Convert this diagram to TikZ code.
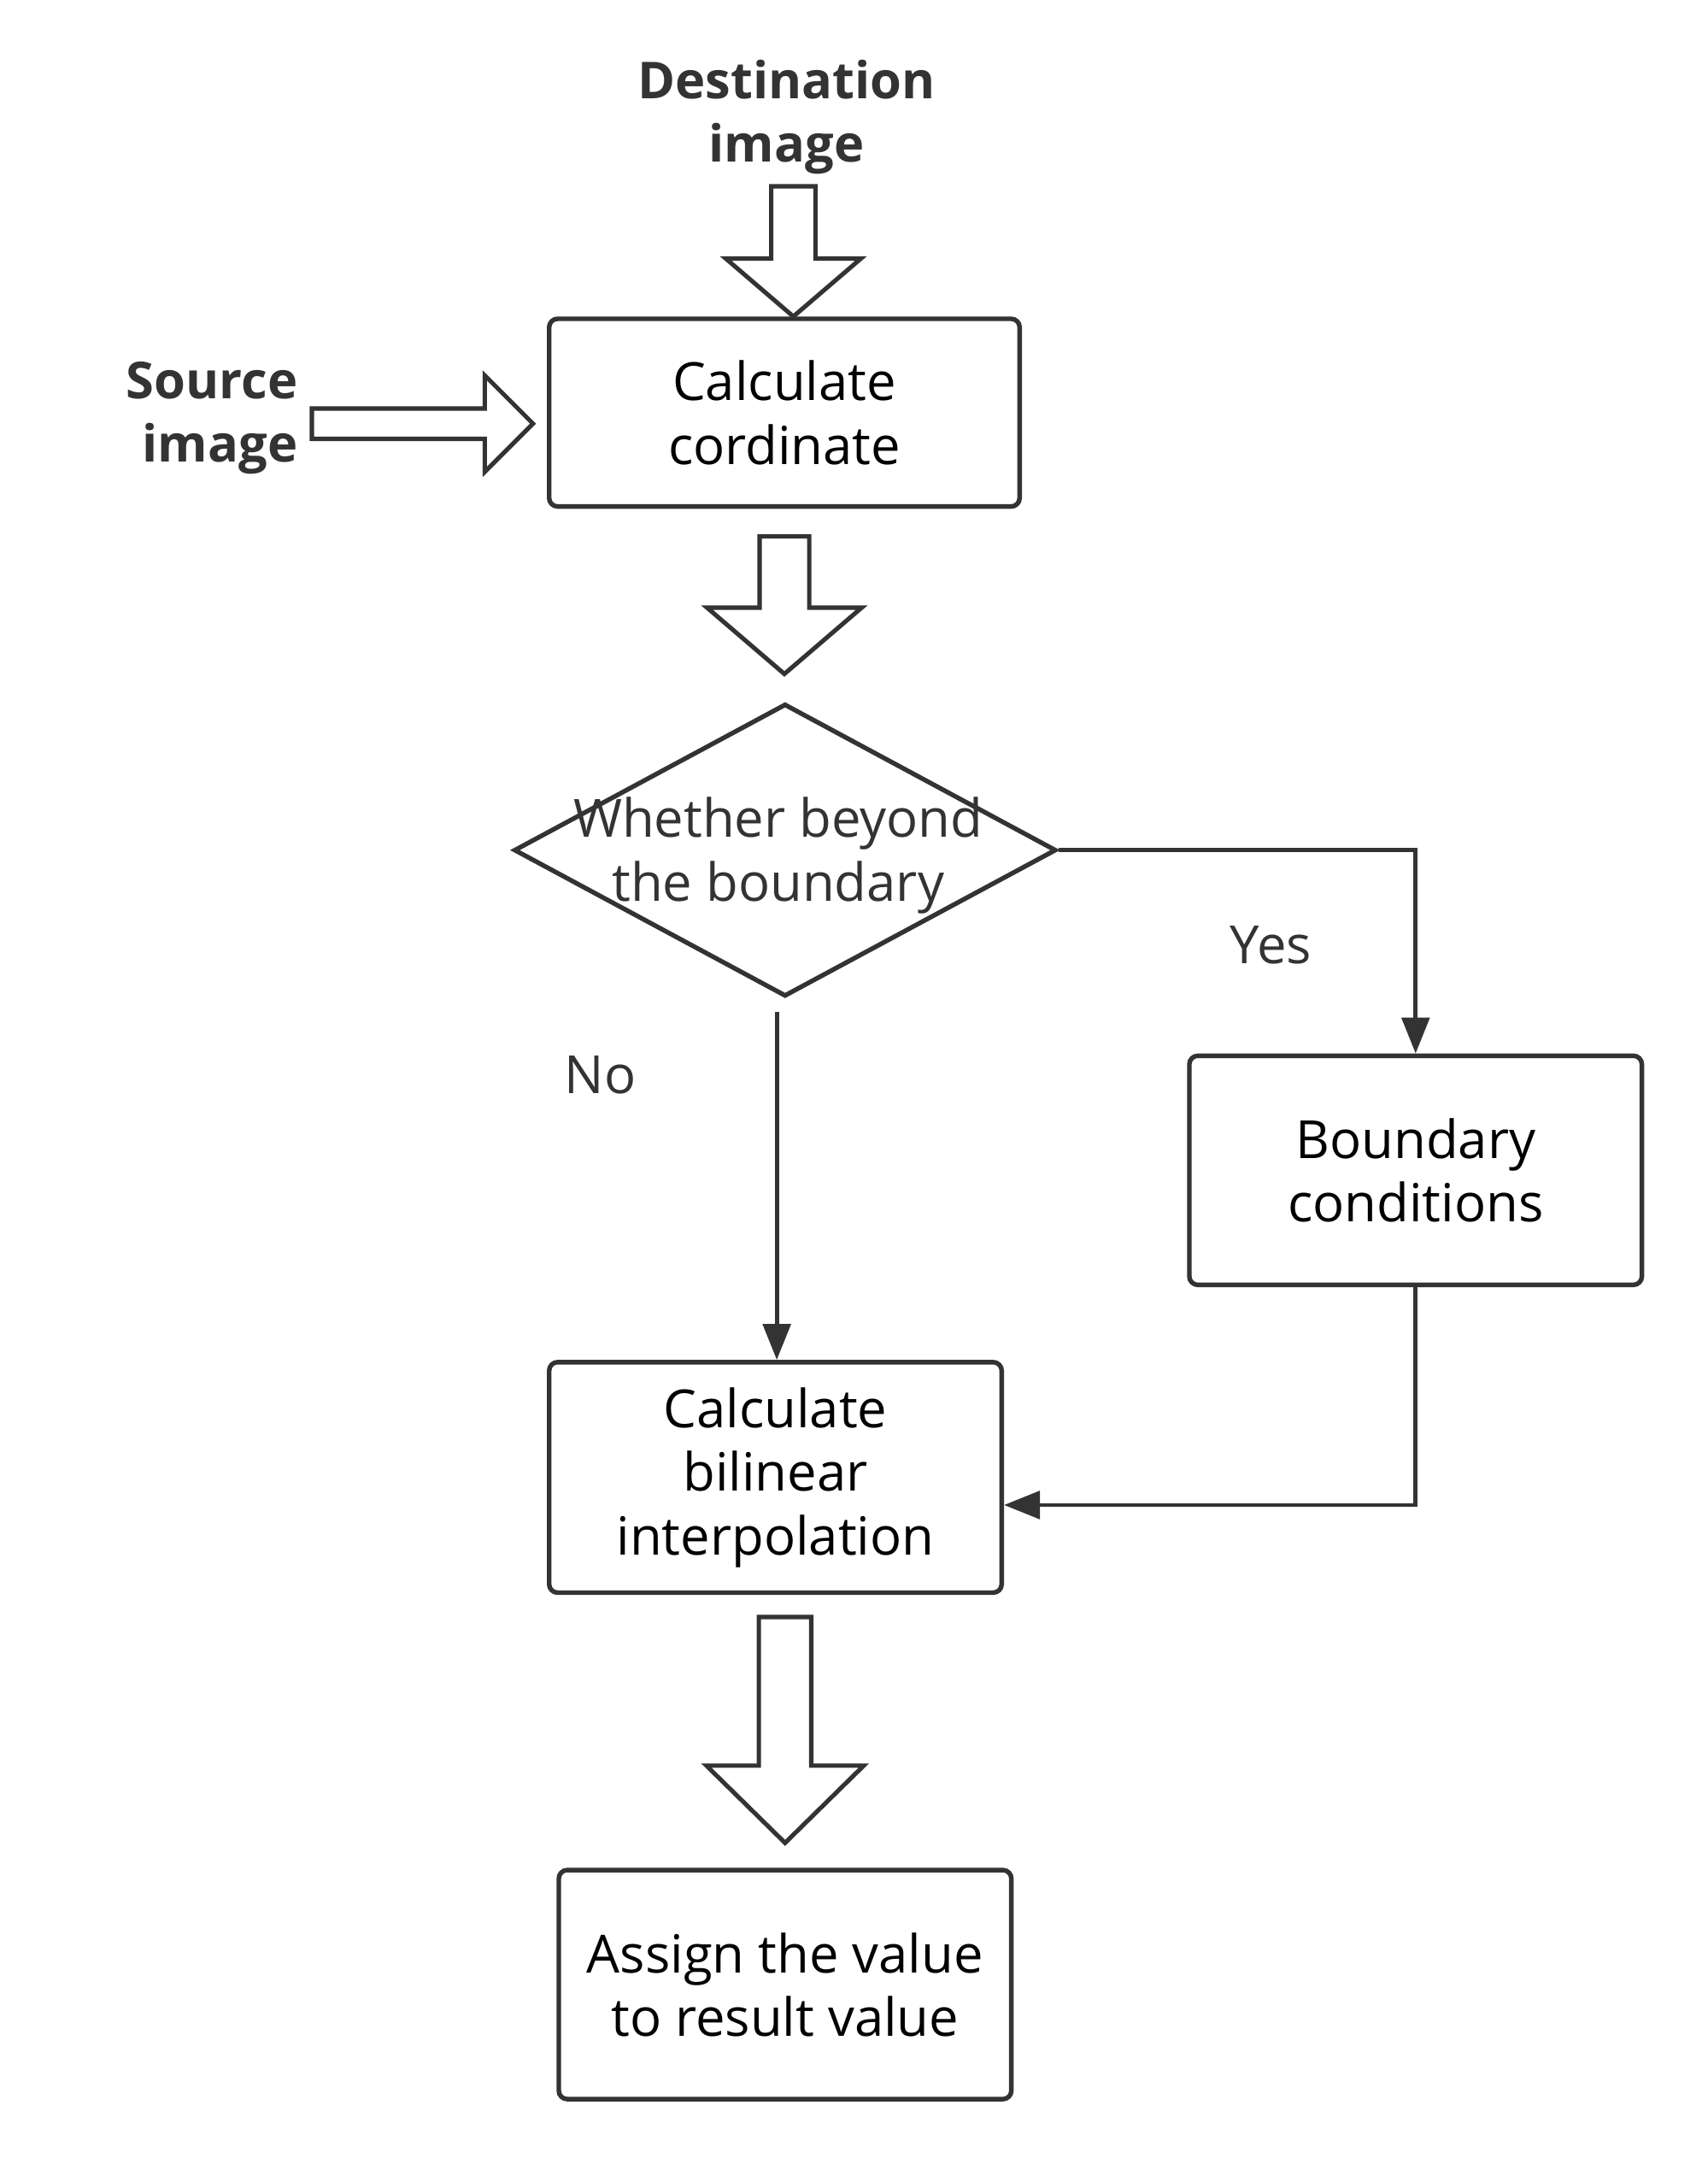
\documentclass[tikz,border=0pt]{standalone}
\usepackage{fontspec}
\setmainfont{Open Sans}
\usetikzlibrary{positioning, shapes.geometric, arrows.meta, calc}

\definecolor{ink}{HTML}{333333}

\tikzset{
    box/.style={draw=ink, line width=1.9pt, rounded corners=3.5pt, minimum width=6.56cm, minimum height=3.32cm, align=center, inner sep=0pt},
    decision/.style={draw=ink, diamond, line width=1.9pt, minimum width=7.86cm, minimum height=4.24cm, inner sep=0pt},
    line/.style={draw=ink, line width=1.7pt},
    fat/.style={draw=ink, line width=1.8pt, line join=miter},
    lbl/.style={text=ink, align=center, inner sep=0pt},
}

% 굵은 블록 화살표 (아래 방향): 시작점, 끝점, 몸통 반폭, 머리 반폭, 머리 길이
\newcommand{\fatdown}[5]{%
    \draw[fat] let \p1=(#1), \p2=(#2) in
        (\x1-#3,\y1) -- (\x1+#3,\y1) -- (\x1+#3,\y2+#5) -- (\x1+#4,\y2+#5)
        -- (\x1,\y2) -- (\x1-#4,\y2+#5) -- (\x1-#3,\y2+#5) -- cycle;}
% 굵은 블록 화살표 (오른쪽 방향)
\newcommand{\fatright}[5]{%
    \draw[fat] let \p1=(#1), \p2=(#2) in
        (\x1,\y1+#3) -- (\x2-#5,\y1+#3) -- (\x2-#5,\y1+#4) -- (\x2,\y1)
        -- (\x2-#5,\y1-#4) -- (\x2-#5,\y1-#3) -- (\x1,\y1-#3) -- cycle;}

\begin{document}
\begin{tikzpicture}[font=\fontsize{21.7}{26.2}\selectfont, >={Triangle[length=0.52cm, width=0.4cm]}]

    \useasboundingbox (0,0) rectangle (24.75,-31.36);

    % --- 입력 ---
    \node[lbl, font=\fontsize{21}{26.2}\selectfont\bfseries] (dst) at (11.4,-1.7) {Destination\\image};
    \node[lbl, font=\fontsize{21}{26.2}\selectfont\bfseries, align=right, anchor=east] (src) at (4.32,-6.06) {Source\\image};

    % --- 처리 단계 ---
    \node[box, minimum width=6.82cm, minimum height=2.72cm] (calc) at (11.37,-5.98) {Calculate\\cordinate};
    \node[decision] (check) at (11.38,-12.32) {};
    \node[lbl] (checktext) at (11.28,-12.4) {Whether beyond\\the boundary};
    \node[box] (bound) at (20.52,-16.96) {Boundary\\conditions};
    \node[box, minimum height=3.34cm] (bilin) at (11.24,-21.41) {Calculate\\bilinear\\interpolation};
    \node[box] (assign) at (11.38,-28.76) {Assign the value\\to result value};

    % --- 블록 화살표 ---
    \coordinate (dsttop) at (11.5,-2.7);
    \fatdown{dsttop}{dsttop |- calc.north}{0.32cm}{0.98cm}{0.84cm}
    \fatright{$(src.east)+(0.2,-0.08)$}{$(calc.west)+(-0.2,0)$}{0.22cm}{0.7cm}{0.7cm}
    \fatdown{$(calc.south)+(0,-0.4)$}{$(check.north)+(0,0.4)$}{0.36cm}{1.12cm}{0.96cm}
    \coordinate (outtop) at ($(bilin.south -| assign.north)+(0,-0.32)$);
    \fatdown{outtop}{$(assign.north)+(0,0.36)$}{0.38cm}{1.14cm}{1.12cm}

    % --- 분기 ---
    \draw[line, ->] (check.east) -| (bound.north);
    \node[lbl] (yes) at (18.42,-13.7) {Yes};
    \coordinate (nostart) at (11.26,-14.66);
    \draw[line, ->] (nostart) -- (nostart |- bilin.north);
    \node[lbl] (no) at (8.7,-15.58) {No};
    \draw[line, ->] (bound.south) |- ($(bilin.east)+(0,-0.4)$);

\end{tikzpicture}
\end{document}
